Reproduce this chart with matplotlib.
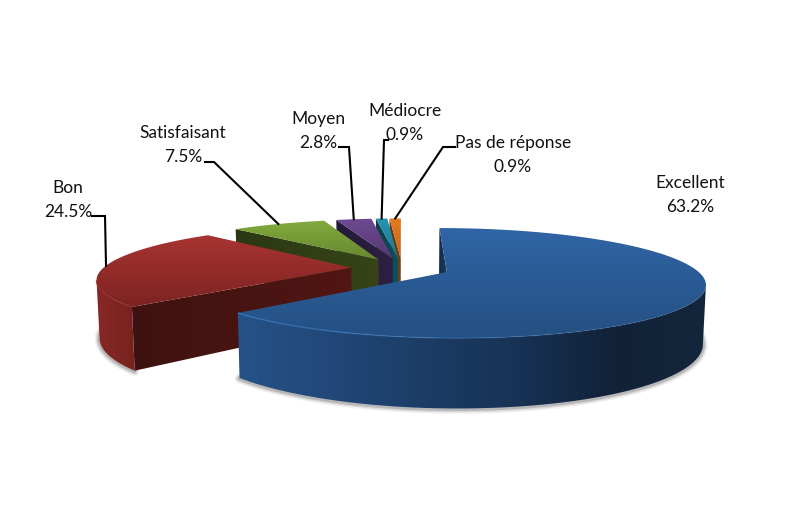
import numpy as np
import matplotlib
matplotlib.use("Agg")
import matplotlib.pyplot as plt
from matplotlib.collections import LineCollection
from matplotlib.colors import LinearSegmentedColormap
from matplotlib.patches import Polygon

labels = ["Excellent", "Bon", "Satisfaisant", "Moyen", "Médiocre", "Pas de réponse"]
values = [63.2, 24.5, 7.5, 2.8, 0.9, 0.9]

top_colors = [[(48, 101, 166), (36, 80, 130)],
              [(168, 52, 50), (124, 35, 33)],
              [(131, 170, 62), (100, 135, 46)],
              [(110, 74, 146), (84, 56, 112)],
              [(38, 150, 180), (30, 115, 140)],
              [(230, 124, 34), (190, 100, 28)]]
rim_colors = [[(38, 82, 136), (33, 72, 120), (28, 60, 102), (23, 50, 84), (17, 34, 56), (20, 38, 60)],
              [(136, 40, 38), (118, 34, 32)],
              [(50, 62, 22), (50, 62, 22)],
              [(42, 30, 62), (42, 30, 62)],
              [(16, 72, 88), (16, 72, 88)],
              [(112, 60, 16), (112, 60, 16)]]
face_colors = [[(20, 42, 70), (28, 60, 100)],
               [(62, 18, 16), (82, 22, 20)],
               [(44, 56, 20), (54, 68, 24)],
               [(36, 26, 54), (46, 32, 68)],
               [(14, 62, 76), (18, 80, 96)],
               [(100, 54, 14), (120, 66, 18)]]
edge_colors = [(58, 118, 186), (150, 44, 42), (120, 155, 60), (100, 70, 130),
               (40, 140, 170), (215, 115, 30)]
explode = [0.195, 0.205, 0.195, 0.195, 0.195, 0.195]

# projection of the pie disc on the page, in pixels
CX, CY = 402.0, 268.0
RX, RY = 248.0, 51.2
PERSP = 0.196
DEPTH = 55.5
SHRINK = 0.99


def project(px, py, bottom=False):
    w = 1 + PERSP * np.asarray(py)
    x = CX + RX * np.asarray(px) / w
    y = CY - RY * np.asarray(py) / w
    if bottom:
        x = CX + (x - CX) * SHRINK
        y = y + DEPTH / w
    return x, y


def rgb(c):
    return np.array(c) / 255.0


fig = plt.figure(figsize=(8.03, 5.11), dpi=100)
ax = fig.add_axes([0, 0, 1, 1])
ax.set_xlim(0, 803)
ax.set_ylim(511, 0)
ax.axis("off")

fracs = np.array(values) / sum(values)
ends = np.cumsum(fracs) * 2 * np.pi
starts = ends - fracs * 2 * np.pi
mids = (starts + ends) / 2


def slice_coords(i, th):
    ox = explode[i] * np.sin(mids[i])
    oy = explode[i] * np.cos(mids[i])
    return ox + np.sin(th), oy + np.cos(th)


def gradient_poly(poly, stops, horizontal, z):
    # polygon filled by a clipped gradient image
    cm = LinearSegmentedColormap.from_list("g", [rgb(c) for c in stops])
    patch = Polygon(poly, closed=True, fc="none", ec="none")
    ax.add_patch(patch)
    grad = np.linspace(0, 1, 256)
    grad = grad.reshape(1, -1) if horizontal else grad.reshape(-1, 1)
    im = ax.imshow(grad, cmap=cm, aspect="auto", zorder=z, interpolation="bilinear",
                   extent=[poly[:, 0].min() - 1, poly[:, 0].max() + 1, poly[:, 1].max() + 1, poly[:, 1].min() - 1])
    im.set_clip_path(patch)


# soft shadow under the front of the pie
for i in [0, 1]:
    th = np.linspace(starts[i], ends[i], 200)
    px, py = slice_coords(i, th)
    bx, by = project(px, py, bottom=True)
    keep = py < 0.3
    for lw, al in [(7, 0.08), (5, 0.14), (3, 0.25)]:
        ax.plot(bx[keep], by[keep] + 0.5, color="#505050", lw=lw, alpha=al,
                solid_capstyle="round", zorder=1)

z = 2
for i in [5, 4, 3, 2, 1, 0]:
    th = np.linspace(starts[i], ends[i], max(12, int(fracs[i] * 400)))
    px, py = slice_coords(i, th)
    apx = explode[i] * np.sin(mids[i])
    apy = explode[i] * np.cos(mids[i])
    tx, ty = project(px, py)
    bx, by = project(px, py, bottom=True)
    ctx, cty = project(apx, apy)
    cbx, cby = project(apx, apy, bottom=True)

    # radial cut faces, kept only when they look at the viewer
    if tx[0] < ctx:
        quad = np.array([(ctx, cty), (tx[0], ty[0]), (bx[0], by[0]), (cbx, cby)])
        gradient_poly(quad, face_colors[i], True, z)
        z += 1
    if ctx < tx[-1]:
        quad = np.array([(tx[-1], ty[-1]), (ctx, cty), (cbx, cby), (bx[-1], by[-1])])
        gradient_poly(quad, face_colors[i], True, z)
        z += 1

    # outer rim, front part only
    vis = np.where(np.diff(tx) < 0)[0]
    if len(vis):
        idx = np.append(vis, vis[-1] + 1)
        rim = np.vstack([np.column_stack([tx[idx], ty[idx]]),
                         np.column_stack([bx[idx][::-1], by[idx][::-1]])])
        gradient_poly(rim, rim_colors[i], True, z)
        z += 1

    # top surface with a vertical gradient
    poly = np.vstack([[ctx, cty], np.column_stack([tx, ty])])
    gradient_poly(poly, top_colors[i], False, z)
    z += 1

    # thin lit edge, fading out to the right
    if len(vis):
        idx = np.append(vis, vis[-1] + 1)
        pts = np.column_stack([tx[idx], ty[idx]])
        segs = np.stack([pts[:-1], pts[1:]], axis=1)
        fade = np.clip((tx[idx][:-1].max() - tx[idx][:-1]) / (tx[idx].max() - tx[idx].min() + 1e-6), 0, 1)
        cols = np.zeros((len(segs), 4))
        cols[:, :3] = rgb(edge_colors[i])
        cols[:, 3] = fade ** 1.5 * 0.9 + 0.1
        ax.add_collection(LineCollection(segs, colors=cols, linewidths=1.0, zorder=z))
        z += 1

ax.set_xlim(0, 803)
ax.set_ylim(511, 0)

# labels and leader lines
label_pos = [(690, 195), (68, 200), (183, 145), (318, 131), (405, 123), (513, 155)]
leader_knee = [None, [(92, 216), (105, 216)], [(205, 162), (214, 162)], [(339, 147), (349, 147)],
               [(388, 140), (384, 140)], [(455, 147), (443, 147)]]
for i, name in enumerate(labels):
    ax.text(label_pos[i][0], label_pos[i][1], "%s\n%.1f%%" % (name, values[i]), ha="center", va="center",
            fontsize=12.5, family="Lato", color="#111111", linespacing=1.62, zorder=z + 2)
    if leader_knee[i] is not None:
        px, py = slice_coords(i, mids[i])
        ex, ey = project(px, py)
        pts = leader_knee[i] + [(float(ex), float(ey))]
        ax.plot([p[0] for p in pts], [p[1] for p in pts], color="black", lw=1.5, zorder=z + 1,
                solid_joinstyle="miter")

fig.savefig("out.png", dpi=100, facecolor="white")
